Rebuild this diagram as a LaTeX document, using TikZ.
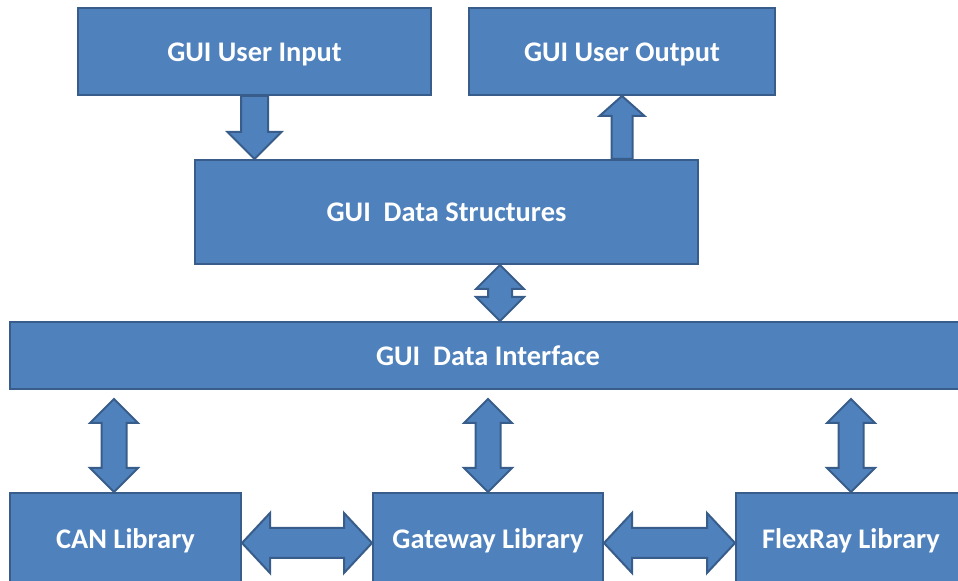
\documentclass[tikz,border=0pt]{standalone}
\usepackage{fontspec}
\setmainfont{Carlito}
\usetikzlibrary{positioning, calc}
\definecolor{boxfill}{HTML}{4F81BD}
\definecolor{boxline}{HTML}{385D8A}

% block arrow: from, to, shaft half width, head half width, head length
\newcommand\solidarrow[5]{%
  \coordinate (sa) at (#1);
  \coordinate (sb) at (#2);
  \coordinate (sc) at ($(sb)!#5!(sa)$);
  \draw[blockarr] ($(sa)!#3!90:(sb)$) -- ($(sc)!#3!90:(sb)$) -- ($(sc)!#4!90:(sb)$)
    -- (sb) -- ($(sc)!#4!-90:(sb)$) -- ($(sc)!#3!-90:(sb)$) -- ($(sa)!#3!-90:(sb)$) -- cycle;
}
% same, with a head at both ends
\newcommand\twowayarrow[5]{%
  \coordinate (sa) at (#1);
  \coordinate (sb) at (#2);
  \coordinate (sc) at ($(sa)!#5!(sb)$);
  \coordinate (sd) at ($(sb)!#5!(sa)$);
  \draw[blockarr] (sa) -- ($(sc)!#4!90:(sb)$) -- ($(sc)!#3!90:(sb)$) -- ($(sd)!#3!90:(sb)$)
    -- ($(sd)!#4!90:(sb)$) -- (sb) -- ($(sd)!#4!-90:(sb)$) -- ($(sd)!#3!-90:(sb)$)
    -- ($(sc)!#3!-90:(sb)$) -- ($(sc)!#4!-90:(sb)$) -- cycle;
}

\begin{document}
\begin{tikzpicture}[x=0.5pt, y=-0.5pt,
  font=\fontsize{14.2}{17}\selectfont\bfseries,
  blk/.style={draw=boxline, line width=1pt, fill=boxfill, text=white,
              inner sep=0pt, align=center, text height=9.6pt, text depth=0pt},
  blockarr/.style={draw=boxline, line width=1pt, fill=boxfill, line join=miter}
]
  \useasboundingbox (0,0) rectangle (958,581);

  \node[blk, minimum width=176.5pt, minimum height=43.5pt] (in) at (254.5,51.5) {GUI User Input};
  \node[blk, minimum width=153pt, minimum height=43.5pt, right=18pt of in] (out) {GUI User Output};
  \node[blk, minimum width=251.5pt, minimum height=52pt] (ds) at (446.5,212) {GUI\ \ Data Structures};
  \node[blk, minimum width=478pt, minimum height=33.5pt] (di) at (488,355.5) {GUI\ \ Data Interface};
  \node[blk, minimum width=115.5pt, minimum height=46pt] (can) at (125.5,539) {CAN Library};
  \node[blk, minimum width=115pt, minimum height=46pt, right=65pt of can] (gw) {Gateway Library};
  \node[blk, minimum width=115pt, minimum height=46pt, right=65.5pt of gw] (fr) {FlexRay Library};

  \coordinate (xa) at (500,0);
  \coordinate (xb) at (114,0);
  \coordinate (xc) at (851,0);
  \coordinate (ya) at (0,543);

  \solidarrow{in.south}{ds.north -| in.south}{6.75pt}{13.5pt}{13.5pt}
  \solidarrow{ds.north -| out.south}{out.south}{5.25pt}{11.25pt}{10pt}
  \twowayarrow{ds.south -| xa}{di.north -| xa}{6pt}{12pt}{12pt}
  \twowayarrow{$(di.south -| xb)+(0,9)$}{can.north -| xb}{6.25pt}{12pt}{12pt}
  \twowayarrow{$(di.south -| gw.north)+(0,9)$}{gw.north}{6.25pt}{12pt}{12pt}
  \twowayarrow{$(di.south -| xc)+(0,9)$}{fr.north -| xc}{6.25pt}{12pt}{12pt}
  \twowayarrow{can.east |- ya}{gw.west |- ya}{7.5pt}{15pt}{14pt}
  \twowayarrow{gw.east |- ya}{fr.west |- ya}{7.5pt}{15pt}{14pt}
\end{tikzpicture}
\end{document}
